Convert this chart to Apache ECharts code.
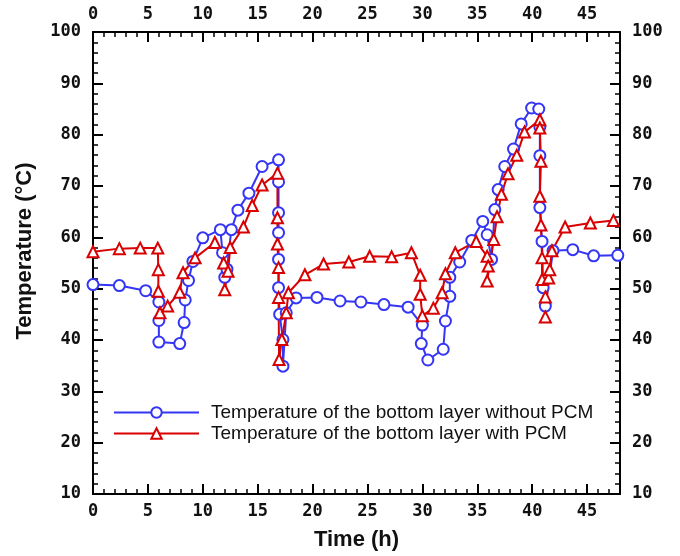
<!DOCTYPE html>
<html>
<head>
<meta charset="utf-8">
<script src="https://cdn.jsdelivr.net/npm/echarts@6/dist/echarts.min.js"></script>
<style>html,body{margin:0;padding:0;background:#fff}#c{width:680px;height:556px}</style>
</head>
<body>
<div id="c"></div>
<script>
const seriesNames = ['Temperature of the bottom layer without PCM', 'Temperature of the bottom layer with PCM'];
const timeNoPcm = [0, 2.4, 4.8, 6.0, 6.0, 6.0, 7.9, 8.3, 8.4, 8.7, 9.1, 10.0, 11.6, 11.8, 12.0, 12.2, 12.6, 13.2, 14.2, 15.4, 16.9, 16.9, 16.9, 16.9, 16.9, 16.9, 17.0, 17.3, 17.3, 17.6, 18.5, 20.4, 22.5, 24.4, 26.5, 28.7, 30.0, 29.9, 30.5, 31.9, 32.1, 32.5, 32.5, 33.4, 34.5, 35.5, 35.9, 36.3, 36.6, 36.9, 37.5, 38.3, 39.0, 39.95, 40.6, 40.7, 40.7, 40.7, 40.9, 41.0, 41.2, 41.9, 43.7, 45.6, 47.8];
const tempNoPcm = [50.8, 50.6, 49.6, 47.4, 43.8, 39.6, 39.3, 43.4, 47.8, 51.6, 55.3, 59.9, 61.5, 57.0, 52.2, 53.8, 61.5, 65.3, 68.6, 73.8, 75.1, 70.8, 64.8, 60.9, 55.7, 50.2, 45.0, 40.1, 34.9, 45.3, 48.2, 48.3, 47.6, 47.4, 46.9, 46.4, 42.9, 39.3, 36.1, 38.2, 43.7, 48.5, 52.2, 55.2, 59.4, 63.1, 60.5, 55.7, 65.4, 69.3, 73.8, 77.2, 82.1, 85.2, 85.0, 81.5, 75.9, 65.8, 59.2, 50.2, 46.6, 57.4, 57.6, 56.4, 56.5];
const timePcm = [0.0, 2.4, 4.3, 5.9, 5.95, 5.95, 6.1, 6.8, 7.9, 8.2, 9.3, 11.1, 11.9, 12.0, 12.3, 12.5, 13.7, 14.5, 15.4, 16.8, 16.8, 16.8, 16.9, 16.9, 16.95, 17.2, 17.6, 17.8, 19.3, 21.0, 23.3, 25.2, 27.2, 29.0, 29.8, 29.8, 30.0, 31.0, 31.8, 32.1, 33.0, 34.9, 35.9, 36.0, 35.9, 36.5, 36.8, 37.2, 37.8, 38.6, 39.3, 40.7, 40.7, 40.8, 40.7, 40.8, 40.9, 40.9, 41.2, 41.2, 41.5, 41.6, 41.8, 43.0, 45.3, 47.4];
const tempPcm = [57.2, 57.8, 57.9, 57.9, 53.7, 49.5, 45.3, 46.6, 49.3, 53.1, 56.0, 59.0, 55.0, 49.8, 53.4, 58.0, 62.0, 66.2, 70.2, 72.5, 63.8, 58.7, 54.1, 48.3, 36.2, 40.1, 45.3, 49.2, 52.7, 54.8, 55.2, 56.3, 56.2, 57.0, 52.6, 48.9, 44.7, 46.2, 49.2, 52.9, 57.0, 59.2, 56.3, 54.4, 51.5, 59.6, 64.0, 68.4, 72.4, 76.0, 80.5, 82.9, 81.3, 74.8, 68.0, 62.4, 56.0, 51.8, 48.4, 44.5, 52.1, 53.7, 57.4, 62.0, 62.8, 63.3];
const xTicks = {min: 0, max: 48, major: 5, minor: 1};
const yTicks = {min: 10, max: 100, major: 10, minor: 2};

const zip = (a, b) => a.map((v, i) => [v, b[i]]);
const blue = '#3535f5', red = '#d80000';
const lblFont = {fontFamily: 'DejaVu Sans Mono', fontWeight: 'bold', fontSize: 17, color: '#111'};
const lineStyle = {color: '#000', width: 2};

function xAx(pos, major, opts) {
  return Object.assign({
    type: 'value', position: pos, min: xTicks.min, max: xTicks.max,
    interval: major ? xTicks.major : xTicks.minor,
    axisLine: {show: major, onZero: false, lineStyle},
    axisTick: {show: true, inside: true, length: major ? 10 : 5, lineStyle: {color: '#000', width: major ? 2 : 1.5}},
    axisLabel: major ? Object.assign({show: true, margin: 9, showMaxLabel: false}, lblFont) : {show: false},
    splitLine: {show: false}
  }, opts || {});
}
function yAx(pos, major, opts) {
  return Object.assign({
    type: 'value', position: pos, min: yTicks.min, max: yTicks.max,
    interval: major ? yTicks.major : yTicks.minor,
    axisLine: {show: major, onZero: false, lineStyle},
    axisTick: {show: true, inside: true, length: major ? 10 : 5, lineStyle: {color: '#000', width: major ? 2 : 1.5}},
    axisLabel: major ? Object.assign({show: true, margin: 12}, lblFont) : {show: false},
    splitLine: {show: false}
  }, opts || {});
}

const chart = echarts.init(document.getElementById('c'), null, {renderer: 'canvas'});
chart.setOption({
  backgroundColor: '#fff',
  animation: false,
  grid: {left: 93, right: 60, top: 32, bottom: 61, containLabel: false},
  xAxis: [
    xAx('bottom', true, {name: 'Time (h)', nameLocation: 'middle', nameGap: 35,
      nameTextStyle: {fontFamily: 'Liberation Sans', fontWeight: 'bold', fontSize: 22, color: '#111'}}),
    xAx('top', true),
    xAx('bottom', false),
    xAx('top', false)
  ],
  yAxis: [
    yAx('left', true, {name: 'Temperature (°C)', nameLocation: 'middle', nameGap: 57,
      nameTextStyle: {fontFamily: 'Liberation Sans', fontWeight: 'bold', fontSize: 22, color: '#111', padding: [0, 0, 0, 24]}}),
    yAx('right', true),
    yAx('left', false),
    yAx('right', false)
  ],
  legend: {
    orient: 'vertical', left: 108, top: 397, itemWidth: 85, itemHeight: 13, itemGap: 0,
    data: seriesNames,
    textStyle: {fontFamily: 'Liberation Sans', fontSize: 19, lineHeight: 21, color: '#111', padding: [0, 0, 0, 7]}
  },
  series: [
    {
      name: seriesNames[0], type: 'line', xAxisIndex: 0, yAxisIndex: 0,
      data: zip(timeNoPcm, tempNoPcm),
      symbol: 'emptyCircle', symbolSize: 11,
      lineStyle: {color: blue, width: 2},
      itemStyle: {color: blue, borderColor: blue, borderWidth: 2}
    },
    {
      name: seriesNames[1], type: 'line', xAxisIndex: 0, yAxisIndex: 0,
      data: zip(timePcm, tempPcm),
      symbol: 'emptyTriangle', symbolSize: 11,
      lineStyle: {color: red, width: 2},
      itemStyle: {color: red, borderColor: red, borderWidth: 2}
    }
  ]
});
</script>
</body>
</html>
